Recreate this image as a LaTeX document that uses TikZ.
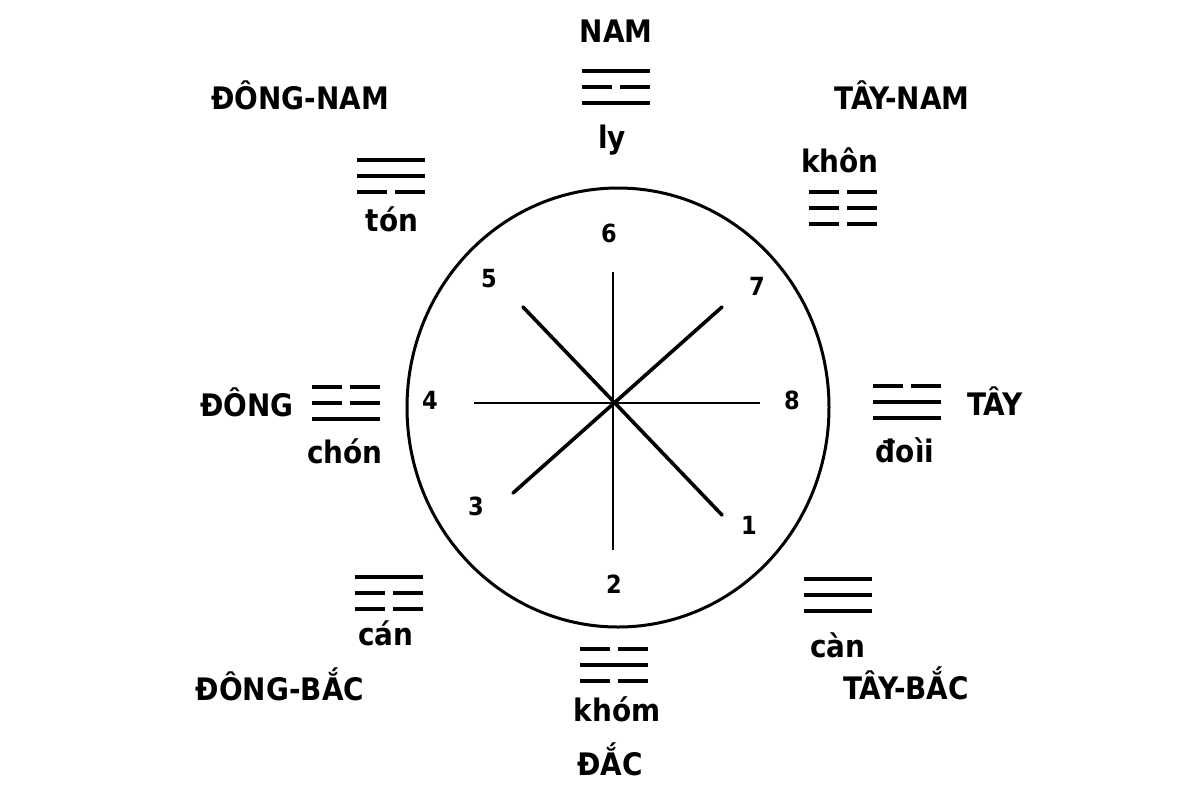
\documentclass[tikz,border=0pt]{standalone}
\usepackage{fontspec}
\newfontfamily\lblfont{DejaVu Sans Condensed}
\tikzset{
  px/.style={x=0.5pt,y=-0.5pt},
  lbl/.style={font=\lblfont\bfseries\fontsize{15.5}{18}\selectfont,inner sep=0pt,anchor=base},
  num/.style={font=\lblfont\bfseries\fontsize{12.5}{14}\selectfont,inner sep=0pt,anchor=base},
  bar/.style={line width=2.4pt,line cap=butt},
  spoke/.style={line width=1.4pt,line cap=butt},
  diag/.style={line width=1.8pt,line cap=round},
  ring/.style={line width=1.5pt}
}
\newcommand{\drawbar}[3]{%
  \ifnum#3=1
    \draw[bar] ({#1-34},{#2}) -- ({#1+34},{#2});
  \else
    \draw[bar] ({#1-34},{#2}) -- ({#1-4},{#2});
    \draw[bar] ({#1+4},{#2}) -- ({#1+34},{#2});
  \fi}
\newcommand{\drawtrigram}[5]{%
  \drawbar{#1}{#2-16}{#3}%
  \drawbar{#1}{#2}{#4}%
  \drawbar{#1}{#2+16}{#5}}
\begin{document}
\begin{tikzpicture}[px]
\useasboundingbox (0,0) rectangle (1200,800);
\fill[white] (0,0) rectangle (1200,800);
% circle
\coordinate (c) at (613,403);
\draw[ring] (618,407.5) ellipse [x radius=105.5pt, y radius=109.75pt];
% spokes
\coordinate (n) at (613,272);
\coordinate (s) at (613,550);
\coordinate (w) at (474,403);
\coordinate (e) at (760,403);
\coordinate (nw) at (523,307);
\coordinate (se) at (722,515);
\coordinate (ne) at (722,307);
\coordinate (sw) at (513,493);
\draw[spoke] (n) -- (s);
\draw[spoke] (w) -- (e);
\draw[diag] (nw) -- (se);
\draw[diag] (ne) -- (sw);
% numbers
\node[num] (n6) at (609,242) {6};
\node[num] (n5) at (489,287) {5};
\node[num] (n7) at (757,295) {7};
\node[num] (n4) at (430,409) {4};
\node[num] (n8) at (792,409) {8};
\node[num] (n3) at (476,515) {3};
\node[num] (n1) at (749,534) {1};
\node[num] (n2) at (614,593) {2};
% direction labels
\node[lbl] (nam) at (616,42) {NAM};
\node[lbl] (dongnam) at (300,109) {ĐÔNG-NAM};
\node[lbl] (taynam) at (902,109) {TÂY-NAM};
\node[lbl] (dong) at (247,416) {ĐÔNG};
\node[lbl] (tay) at (995,415) {TÂY};
\node[lbl] (dongbac) at (280,700) {ĐÔNG-BẮC};
\node[lbl] (taybac) at (906,699) {TÂY-BẮC};
\node[lbl] (bac) at (610,775) {ĐẮC};
% trigram names
\node[lbl] (ly) at (612,148) {ly};
\node[lbl] (ton) at (392,231) {tón};
\node[lbl] (khon) at (840,172) {khôn};
\node[lbl] (chan) at (345,463) {chón};
\node[lbl] (doai) at (905,462) {đoìi};
\node[lbl] (can) at (386,645) {cán};
\node[lbl] (kan) at (838,657) {càn};
\node[lbl] (kham) at (617,721) {khóm};
% trigrams (top, middle, bottom; 1 = solid, 0 = broken)
\drawtrigram{616}{87}{1}{0}{1}
\drawtrigram{391}{176}{1}{1}{0}
\drawtrigram{843}{208}{0}{0}{0}
\drawtrigram{346}{403}{0}{0}{1}
\drawtrigram{907}{402}{0}{1}{1}
\drawtrigram{389}{593}{1}{0}{0}
\drawtrigram{838}{595}{1}{1}{1}
\drawtrigram{614}{665}{0}{1}{0}
\end{tikzpicture}
\end{document}
